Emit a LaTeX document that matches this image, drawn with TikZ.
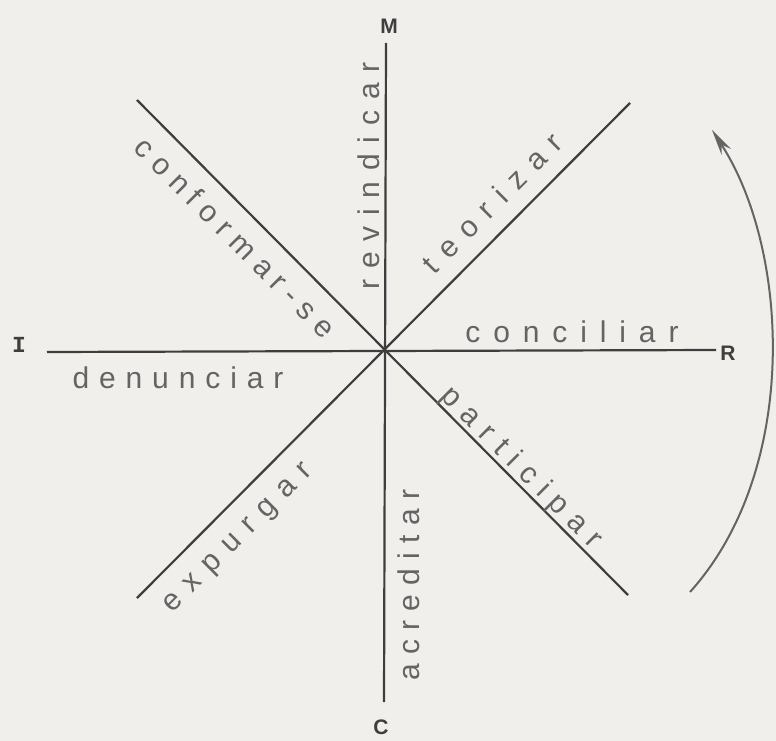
\documentclass[tikz,border=0pt]{standalone}
\usepackage{fontspec}
\setmainfont{Liberation Sans}
\newfontfamily\monofnt{Liberation Mono}
\usetikzlibrary{arrows.meta}
\definecolor{paper}{HTML}{F1EFEC}
\definecolor{ink}{HTML}{3E3E3E}
\definecolor{pencil}{HTML}{646464}
\newcommand\spc[2]{{\addfontfeature{LetterSpace=#1}#2}}
\tikzset{
  axisline/.style={draw=ink, line width=2.2pt},
  word/.style={text=pencil, font=\fontsize{30}{32}\selectfont, anchor=base, inner sep=0pt},
  pole/.style={text=ink, font=\bfseries\fontsize{21}{23}\selectfont, inner sep=0pt},
  turn/.style={draw=pencil, line width=2pt, -{Stealth[length=26pt,width=11pt]}}
}
\begin{document}
\begin{tikzpicture}[x=1pt,y=-1pt]
\fill[paper] (0,0) rectangle (776,741);
\useasboundingbox (0,0) rectangle (776,741);
% poles
\node[pole] (M) at (389,26) {M};
\node[pole, font=\monofnt\bfseries\fontsize{23}{25}\selectfont] (I) at (19,345) {I};
\node[pole] (R) at (728,353) {R};
\node[pole] (C) at (381,727) {C};
% axis end points
\coordinate (O) at (385,350);
\coordinate (top) at (386,43);
\coordinate (bot) at (384,702);
\coordinate (left) at (47,352);
\coordinate (right) at (716,350);
\coordinate (ul) at (137,100);
\coordinate (lr) at (628,595);
\coordinate (ur) at (630,103);
\coordinate (ll) at (137,598);
\draw[axisline] (top) -- (bot);
\draw[axisline] (left) -- (right);
\draw[axisline] (ul) -- (lr);
\draw[axisline] (ur) -- (ll);
% words
\node[word] (w1) at (572,342) {\spc{43}{conciliar}};
\node[word] (w2) at (178,388) {\spc{33}{denunciar}};
\node[word, rotate=90] (w3) at (379,176) {\spc{36}{revindicar}};
\node[word, rotate=90] (w4) at (419,585) {\spc{31}{acreditar}};
\node[word, rotate=45] (w5) at (500,210) {\spc{40}{teorizar}};
\node[word, rotate=-45] (w6) at (228,245) {\spc{28}{conformar-se}};
\node[word, rotate=-45] (w7) at (516,474) {\spc{34}{participar}};
\node[word, rotate=45] (w8) at (243,543) {\spc{39}{expurgar}};
% rotation arrow
\coordinate (a0) at (690,592);
\coordinate (a1) at (712,130);
\draw[turn] (a0) .. controls (800,470) and (790,250) .. (a1);
\end{tikzpicture}
\end{document}
